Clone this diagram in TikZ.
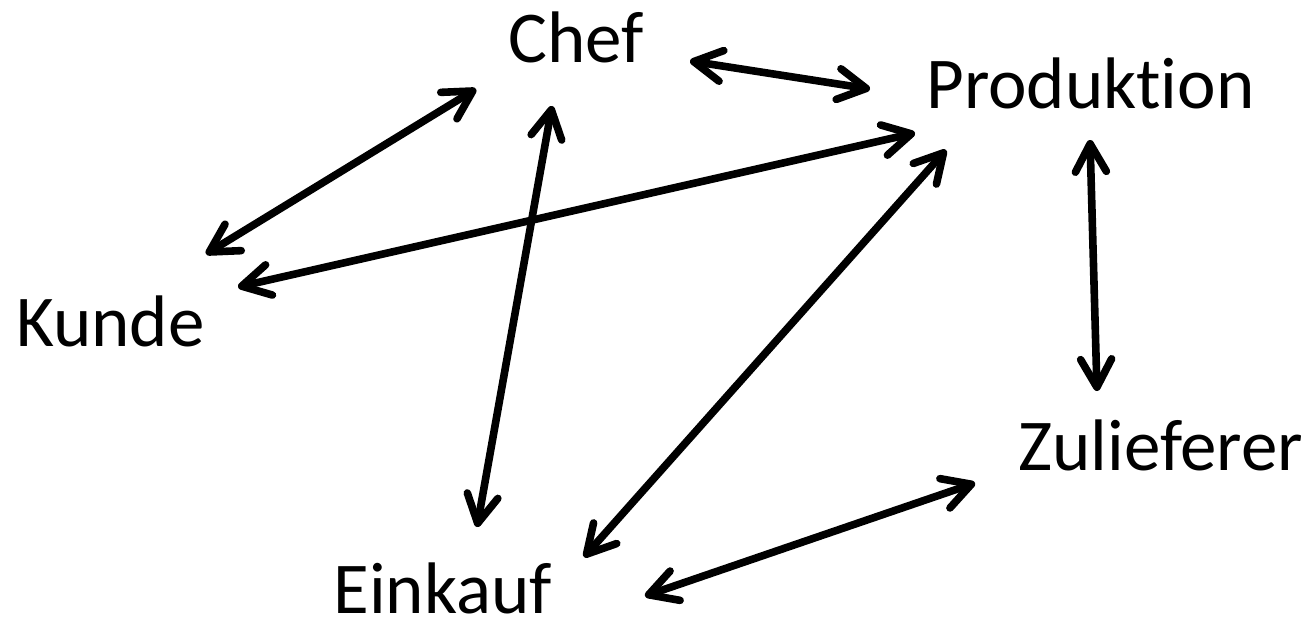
\documentclass[tikz,border=0pt]{standalone}
\usepackage{fontspec}
\setmainfont{Carlito}[Ligatures=NoCommon]
\usetikzlibrary{arrows.meta}
\tikzset{
  dept/.style={inner sep=0pt, anchor=base west, font=\fontsize{36.5}{40}\selectfont},
  barb/.tip={Straight Barb[length=14pt,width=15.5pt,line cap=round,line join=round]},
  link/.style={line width=3.8pt, line cap=round, {barb}-{barb}}
}
\begin{document}
\begin{tikzpicture}[x=0.5pt,y=-0.5pt]
  \useasboundingbox (0,0) rectangle (1315,626);

  % departments
  \node[dept] (chef)  at (508,63)   {Chef};
  \node[dept] (prod)  at (926,108)  {Produktion};
  \node[dept] (kunde) at (16,346)   {Kunde};
  \node[dept] (zul)   at (1018,470) {Zulieferer};
  \node[dept] (eink)  at (333,613)  {Einkauf};

  % arrow end points beside each label
  \coordinate (chefKd)  at (476,89);
  \coordinate (kdChef)  at (206,254);
  \coordinate (chefPr)  at (690,61);
  \coordinate (prChef)  at (870,89);
  \coordinate (kdPr)    at (238,287);
  \coordinate (prKd)    at (915,133);
  \coordinate (chefEk)  at (552,106);
  \coordinate (ekChef)  at (477,527);
  \coordinate (prEk)    at (946,150);
  \coordinate (ekPr)    at (584,557);
  \coordinate (prZu)    at (1090,140);
  \coordinate (zuPr)    at (1097,391);
  \coordinate (ekZu)    at (645,596);
  \coordinate (zuEk)    at (975,483);

  % two-way links
  \draw[link] (chefKd) -- (kdChef);
  \draw[link] (chefPr) -- (prChef);
  \draw[link] (kdPr)   -- (prKd);
  \draw[link] (chefEk) -- (ekChef);
  \draw[link] (prEk)   -- (ekPr);
  \draw[link] (prZu)   -- (zuPr);
  \draw[link] (ekZu)   -- (zuEk);
\end{tikzpicture}
\end{document}
